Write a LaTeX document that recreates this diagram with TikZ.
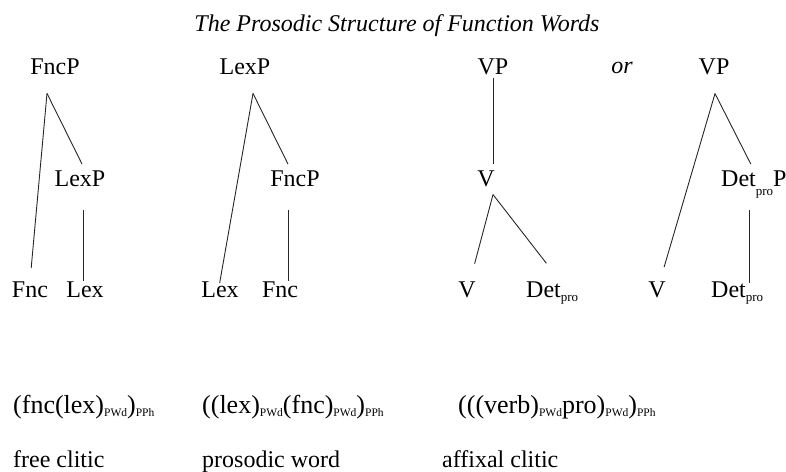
\documentclass[tikz,border=0pt]{standalone}
\usepackage{fontspec}
\setmainfont{Liberation Serif}
\usepackage{tikz}

\newcommand{\lowsub}[2][-4.5pt]{\raisebox{#1}{\fontsize{13}{15}\selectfont #2}}
\newcommand{\phsub}[1]{\raisebox{-3.5pt}{\fontsize{11.5}{13}\selectfont #1}}

\begin{document}
\begin{tikzpicture}[x=1pt, y=-1pt,
  lbl/.style={inner sep=0pt, anchor=base, font=\fontsize{24}{28}\selectfont},
  brk/.style={inner sep=0pt, anchor=base west, font=\fontsize{26}{30}\selectfont},
  edge/.style={line width=0.9pt, black!85}
]
\useasboundingbox (0,0) rectangle (786,471);

\node[lbl, font=\fontsize{24}{28}\selectfont\itshape] (title) at (397,31) {The Prosodic Structure of Function Words};

% free clitic tree
\node[lbl] (fncp1) at (55,74)  {FncP};
\node[lbl] (lexp1) at (80,186) {LexP};
\node[lbl] (fnc1)  at (30,297) {Fnc};
\node[lbl] (lex1)  at (85,297) {Lex};
\coordinate (a1) at ([shift={(-8,19)}]fncp1.south);

% prosodic word tree
\node[lbl] (lexp2) at (245,74)  {LexP};
\node[lbl] (fncp2) at (295,186) {FncP};
\node[lbl] (lex2)  at (220,297) {Lex};
\node[lbl] (fnc2)  at (280,297) {Fnc};
\coordinate (a2) at ([shift={(8,19)}]lexp2.south);

% affixal clitic trees
\node[lbl] (vp3) at (493,74)  {VP};
\node[lbl] (v3)  at (486,186) {V};
\node[lbl] (vv3) at (467,297) {V};
\node[lbl, anchor=base west] (det3) at (526,297) {Det\lowsub{pro}};
\coordinate (a3) at ([shift={(7,8)}]v3.south);

\node[lbl, font=\fontsize{24}{28}\selectfont\itshape] (or) at (622,73) {or};

\node[lbl] (vp4) at (714,74) {VP};
\node[lbl, anchor=base west] (detp4) at (721,186) {Det\lowsub[-9pt]{pro}P};
\node[lbl] (v4) at (657,297) {V};
\node[lbl, anchor=base west] (det4) at (711,297) {Det\lowsub{pro}};
\coordinate (a4) at ([shift={(1,19)}]vp4.south);

% branches
\draw[edge, shorten >=13pt] (a1) -- (fnc1.north);
\draw[edge, shorten >=6.7pt] (a1) -- ([xshift=5pt]lexp1.north);
\draw[edge, shorten <=24pt] ([xshift=3pt]lexp1.south) -- ([xshift=3pt]lexp1.south |- lex1.north);

\draw[edge, shorten >=-2pt] (a2) -- (lex2.north);
\draw[edge, shorten >=6.7pt] (a2) -- ([xshift=-4pt]fncp2.north);
\draw[edge, shorten <=24pt] ([xshift=-7pt]fncp2.south) -- ([xshift=-7pt]fncp2.south |- fnc2.north);

\draw[edge, shorten <=3pt, shorten >=6pt] (vp3.south) -- (vp3.south |- v3.north);
\draw[edge, shorten >=18pt] (a3) -- ([xshift=3pt]vv3.north);
\draw[edge, shorten >=22.6pt] (a3) -- ([xshift=8pt]det3.north);

\draw[edge, shorten >=14.6pt] (a4) -- ([xshift=3pt]v4.north);
\draw[edge, shorten >=6.7pt] (a4) -- (detp4.north);
\draw[edge, shorten <=24pt, shorten >=-2pt] ([xshift=28pt]detp4.base west) -- ([xshift=28pt]detp4.base west |- det4.north);

% bracketings and names
\node[brk] (br1) at (13,413)  {(fnc(lex)\phsub{PWd})\phsub{PPh}};
\node[brk] (br2) at (202,413) {((lex)\phsub{PWd}(fnc)\phsub{PWd})\phsub{PPh}};
\node[brk] (br3) at (458,413) {(((verb)\phsub{PWd}pro)\phsub{PWd})\phsub{PPh}};

\node[lbl, anchor=base west] (nm1) at (13,467)  {free clitic};
\node[lbl, anchor=base west] (nm2) at (202,467) {prosodic word};
\node[lbl, anchor=base west] (nm3) at (442,467) {affixal clitic};
\end{tikzpicture}
\end{document}
